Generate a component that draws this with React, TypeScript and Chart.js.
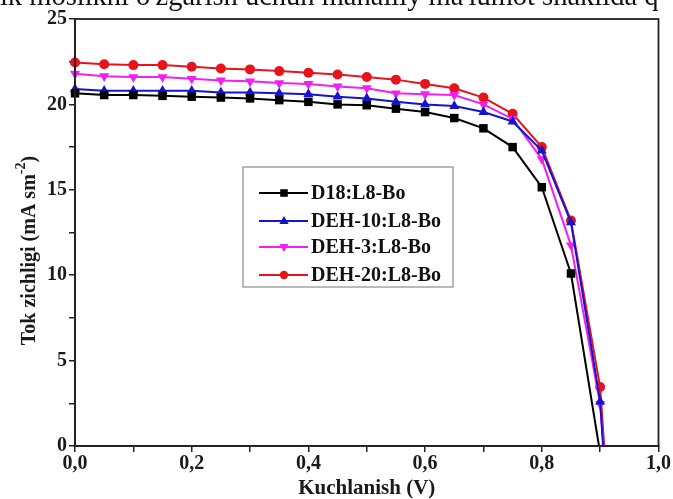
import { useEffect, useRef } from 'react';
import { Chart, registerables } from 'chart.js';

Chart.register(...registerables);

// Voltage sweep (V) shared by all devices
const voltage = [0, 0.05, 0.1, 0.15, 0.2, 0.25, 0.3, 0.35, 0.4, 0.45, 0.5, 0.55, 0.6, 0.65, 0.7, 0.75, 0.8, 0.85, 0.9];

// Current density (mA sm^-2) per device
const d18 = [20.65, 20.55, 20.55, 20.5, 20.45, 20.4, 20.35, 20.25, 20.15, 20.0, 19.95, 19.75, 19.55, 19.2, 18.6, 17.5, 15.15, 10.1];
const deh10 = [20.9, 20.8, 20.8, 20.8, 20.8, 20.7, 20.7, 20.65, 20.6, 20.45, 20.35, 20.15, 20.0, 19.9, 19.55, 19.0, 17.3, 13.1, 2.6];
const deh3 = [21.8, 21.65, 21.6, 21.6, 21.5, 21.4, 21.35, 21.25, 21.2, 21.05, 20.95, 20.65, 20.6, 20.55, 20.0, 19.15, 16.8, 11.75, 2.45];
const deh20 = [22.45, 22.35, 22.3, 22.3, 22.2, 22.1, 22.05, 21.95, 21.85, 21.75, 21.6, 21.45, 21.2, 20.95, 20.4, 19.45, 17.5, 13.2, 3.45];

// Open-circuit voltage where each curve reaches zero current
const vocD18 = 0.898;
const vocDEH10 = 0.905;
const vocDEH3 = 0.906;
const vocDEH20 = 0.907;

const seriesNames = ['D18:L8-Bo', 'DEH-10:L8-Bo', 'DEH-3:L8-Bo', 'DEH-20:L8-Bo'];
const seriesColors = ['#000000', '#1414cc', '#f020f0', '#e8141b'];

const yTicks = [0, 5, 10, 15, 20, 25];
const xTickLabels = ['0,0', '0,2', '0,4', '0,6', '0,8', '1,0'];

const yTitleMain = 'Tok zichligi (mA sm';
const yTitleSup = '-2';
const yTitleEnd = ')';

const SERIF = '"Liberation Serif", "Times New Roman", serif';

function toPoints(values: number[], voc: number) {
  return values.map((y, i) => ({ x: voltage[i], y })).concat([{ x: voc, y: 0 }]);
}

function drawMarker(ctx: CanvasRenderingContext2D, kind: string, x: number, y: number, r: number) {
  ctx.beginPath();
  if (kind === 'rect') {
    ctx.rect(x - r * 0.9, y - r * 0.9, 1.8 * r, 1.8 * r);
  } else if (kind === 'tri') {
    ctx.moveTo(x, y - r * 1.2);
    ctx.lineTo(x + r * 1.1, y + r * 0.7);
    ctx.lineTo(x - r * 1.1, y + r * 0.7);
    ctx.closePath();
  } else if (kind === 'tridown') {
    ctx.moveTo(x, y + r * 1.2);
    ctx.lineTo(x + r * 1.1, y - r * 0.7);
    ctx.lineTo(x - r * 1.1, y - r * 0.7);
    ctx.closePath();
  } else {
    ctx.arc(x, y, r, 0, Math.PI * 2);
  }
  ctx.fill();
}

const markerKinds = ['rect', 'tri', 'tridown', 'circle'];

// Frame around the plotting area, the rotated y-axis title with its
// superscript, and the boxed legend inside the plot
const framePlugin = {
  id: 'frameAndLegend',
  afterDraw(chart: any) {
    const { ctx, chartArea } = chart;
    ctx.save();
    ctx.strokeStyle = '#222';
    ctx.lineWidth = 1.8;
    ctx.strokeRect(chartArea.left, chartArea.top, chartArea.right - chartArea.left, chartArea.bottom - chartArea.top);

    // y-axis title
    ctx.save();
    ctx.translate(29.5, chartArea.top + (chartArea.bottom - chartArea.top) / 2 + 18);
    ctx.rotate(-Math.PI / 2);
    ctx.fillStyle = '#1a1a1a';
    ctx.textBaseline = 'middle';
    ctx.textAlign = 'left';
    const mainFont = `bold 20px ${SERIF}`;
    const supFont = `bold 14px ${SERIF}`;
    ctx.font = mainFont;
    const w1 = ctx.measureText(yTitleMain).width;
    const w3 = ctx.measureText(yTitleEnd).width;
    ctx.font = supFont;
    const w2 = ctx.measureText(yTitleSup).width;
    let x0 = -(w1 + w2 + w3) / 2;
    ctx.font = mainFont;
    ctx.fillText(yTitleMain, x0, 0);
    x0 += w1;
    ctx.font = supFont;
    ctx.fillText(yTitleSup, x0, -8);
    x0 += w2;
    ctx.font = mainFont;
    ctx.fillText(yTitleEnd, x0, 0);
    ctx.restore();

    // legend
    const bx = chartArea.left + 168;
    const by = chartArea.top + 148;
    const bw = 210;
    const bh = 120;
    ctx.lineWidth = 1;
    ctx.strokeStyle = '#777';
    ctx.strokeRect(bx, by, bw, bh);

    const rowY = [by + 26, by + 54, by + 80, by + 108];
    ctx.font = `bold 20px ${SERIF}`;
    ctx.textBaseline = 'middle';
    ctx.textAlign = 'left';
    seriesNames.forEach((name, i) => {
      const y = rowY[i];
      ctx.strokeStyle = seriesColors[i];
      ctx.fillStyle = seriesColors[i];
      ctx.lineWidth = 2;
      ctx.beginPath();
      ctx.moveTo(bx + 16, y);
      ctx.lineTo(bx + 65, y);
      ctx.stroke();
      drawMarker(ctx, markerKinds[i], bx + 41, y, 4.2);
      ctx.fillStyle = '#111';
      ctx.fillText(name, bx + 68, y + 1);
    });
    ctx.restore();
  },
};

export default function App() {
  const canvasRef = useRef<HTMLCanvasElement | null>(null);

  useEffect(() => {
    document.body.style.margin = '0';
    const canvas = canvasRef.current;
    if (!canvas) return;

    const makeDataset = (i: number, values: number[], voc: number) => ({
      label: seriesNames[i],
      data: toPoints(values, voc),
      borderColor: seriesColors[i],
      backgroundColor: seriesColors[i],
      borderWidth: 2,
      pointStyle: i === 0 ? 'rect' : i === 3 ? 'circle' : 'triangle',
      pointRotation: i === 2 ? 180 : 0,
      pointRadius: (c: any) => (c.dataIndex === values.length ? 0 : i === 0 ? 6 : i === 3 ? 5 : 5.8),
      pointBorderWidth: 0,
      tension: 0,
      clip: false as const,
    });

    const chart = new Chart(canvas, {
      type: 'line',
      data: {
        datasets: [
          makeDataset(0, d18, vocD18),
          makeDataset(1, deh10, vocDEH10),
          makeDataset(2, deh3, vocDEH3),
          makeDataset(3, deh20, vocDEH20),
        ],
      },
      options: {
        responsive: false,
        animation: false,
        layout: { padding: { left: 0, top: 19, right: 13, bottom: 0 } },
        plugins: {
          legend: { display: false },
          tooltip: { enabled: false },
        },
        scales: {
          x: {
            type: 'linear',
            min: 0,
            max: 1,
            afterFit: (s: any) => {
              s.height = 53;
            },
            ticks: {
              stepSize: 0.1,
              padding: 2,
              color: '#1a1a1a',
              font: { family: SERIF, size: 20, weight: 'bold', lineHeight: 1 },
              maxRotation: 0,
              autoSkip: false,
              callback: (v: any) => {
                const k = Math.round(Number(v) * 10);
                return k % 2 === 0 ? xTickLabels[k / 2] : '';
              },
            },
            grid: { drawOnChartArea: false, tickLength: 6, color: '#222', lineWidth: 1.5 },
            border: { color: '#222', width: 1.8 },
            title: {
              display: true,
              text: 'Kuchlanish (V)',
              color: '#1a1a1a',
              font: { family: SERIF, size: 21, weight: 'bold', lineHeight: 1 },
              padding: { top: 0, bottom: 0 },
            },
          },
          y: {
            type: 'linear',
            min: 0,
            max: 25,
            afterFit: (s: any) => {
              s.width = 75;
            },
            ticks: {
              stepSize: 2.5,
              padding: 2,
              color: '#1a1a1a',
              font: { family: SERIF, size: 20, weight: 'bold' },
              autoSkip: false,
              callback: (v: any) => {
                const n = Number(v);
                return yTicks.includes(n) ? String(n) : '';
              },
            },
            grid: { drawOnChartArea: false, tickLength: 6, color: '#222', lineWidth: 1.5 },
            border: { color: '#222', width: 1.8 },
            title: { display: false },
          },
        },
      },
      plugins: [framePlugin],
    });

    return () => {
      chart.destroy();
    };
  }, []);

  return (
    <div style={{ position: 'relative', width: 673, height: 499, overflow: 'hidden', background: '#fff' }}>
      <div
        style={{
          position: 'absolute',
          left: -8,
          top: -18,
          width: 700,
          fontFamily: SERIF,
          fontSize: 28.5,
          lineHeight: '28.5px',
          whiteSpace: 'nowrap',
          color: '#111',
        }}
      >
        tik moslikni o'zgarish uchun mahalliy ma'lumot shaklida q
      </div>
      <canvas ref={canvasRef} width={673} height={499} style={{ display: 'block' }} />
    </div>
  );
}
